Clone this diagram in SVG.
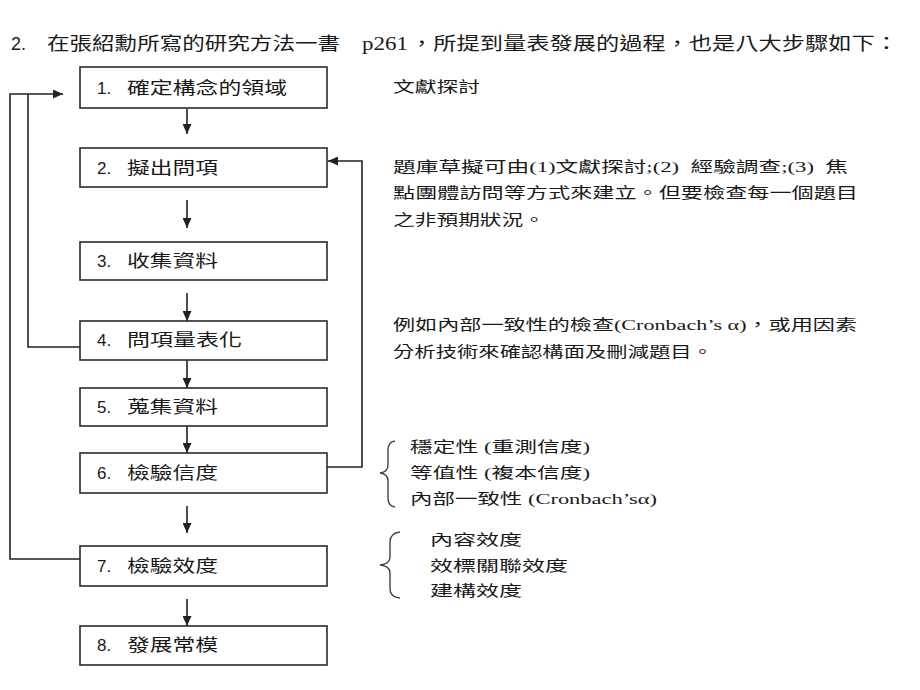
<svg xmlns="http://www.w3.org/2000/svg" width="920" height="690" viewBox="0 0 920 690">
<style>
.box{fill:#fff;stroke:#2a2a2a;stroke-width:1.6}
.cjk{font-family:"Noto Sans CJK TC","Noto Sans CJK SC",sans-serif;fill:#1a1a1a}
.mix{font-family:"Liberation Serif","Noto Sans CJK TC",serif;fill:#1a1a1a}
.num{font-family:"Liberation Sans","Noto Sans CJK TC",sans-serif;fill:#1a1a1a}
.lbl{font-size:17px}
.note{font-size:15px}
.ttl{font-size:18px}
.con{fill:none;stroke:#222;stroke-width:1.6}
.brace{fill:none;stroke:#444;stroke-width:1.4}
</style>
<defs>
<marker id="ah" markerUnits="userSpaceOnUse" markerWidth="11" markerHeight="9" refX="10" refY="4.5" orient="auto">
<path d="M0,0 L10,4.5 L0,9 Z" fill="#222"/>
</marker>
</defs>
<rect width="920" height="690" fill="#fff"/>

<g id="title">
<text class="num ttl" x="11" y="50">2.</text>
<text class="cjk ttl" x="47" y="50" textLength="293" lengthAdjust="spacingAndGlyphs">在張紹勳所寫的研究方法一書</text>
<text class="mix ttl" x="362" y="50" textLength="46" lengthAdjust="spacingAndGlyphs">p261</text>
<text class="cjk ttl" x="410" y="50" textLength="488" lengthAdjust="spacingAndGlyphs">，所提到量表發展的過程，也是八大步驟如下：</text>
</g>

<g id="connectors">
<line class="con" x1="187" y1="109" x2="187" y2="134" marker-end="url(#ah)"/>
<line class="con" x1="187" y1="200" x2="187" y2="228" marker-end="url(#ah)"/>
<line class="con" x1="187" y1="293" x2="187" y2="321" marker-end="url(#ah)"/>
<line class="con" x1="187" y1="360" x2="187" y2="388" marker-end="url(#ah)"/>
<line class="con" x1="187" y1="426" x2="187" y2="453" marker-end="url(#ah)"/>
<line class="con" x1="187" y1="506" x2="187" y2="533" marker-end="url(#ah)"/>
<line class="con" x1="187" y1="599" x2="187" y2="626" marker-end="url(#ah)"/>
<polyline class="con" points="80,347 28,347 28,94"/>
<polyline class="con" points="80,559 10,559 10,94 63,94" marker-end="url(#ah)"/>
<polyline class="con" points="327,467 362,467 362,161 328,161" marker-end="url(#ah)"/>
</g>

<g id="n1"><rect class="box" x="80" y="67" width="247" height="41"/>
<text class="num lbl" x="97" y="94">1.</text>
<text class="cjk lbl" x="127" y="94" textLength="160" lengthAdjust="spacingAndGlyphs">確定構念的領域</text></g>
<g id="n2"><rect class="box" x="80" y="148" width="247" height="39"/>
<text class="num lbl" x="97" y="174">2.</text>
<text class="cjk lbl" x="127" y="174" textLength="91" lengthAdjust="spacingAndGlyphs">擬出問項</text></g>
<g id="n3"><rect class="box" x="80" y="242" width="247" height="38"/>
<text class="num lbl" x="97" y="267">3.</text>
<text class="cjk lbl" x="127" y="267" textLength="91" lengthAdjust="spacingAndGlyphs">收集資料</text></g>
<g id="n4"><rect class="box" x="80" y="321" width="247" height="39"/>
<text class="num lbl" x="97" y="346">4.</text>
<text class="cjk lbl" x="127" y="346" textLength="115" lengthAdjust="spacingAndGlyphs">問項量表化</text></g>
<g id="n5"><rect class="box" x="80" y="388" width="247" height="38"/>
<text class="num lbl" x="97" y="413">5.</text>
<text class="cjk lbl" x="127" y="413" textLength="91" lengthAdjust="spacingAndGlyphs">蒐集資料</text></g>
<g id="n6"><rect class="box" x="80" y="453" width="247" height="40"/>
<text class="num lbl" x="97" y="479">6.</text>
<text class="cjk lbl" x="127" y="479" textLength="91" lengthAdjust="spacingAndGlyphs">檢驗信度</text></g>
<g id="n7"><rect class="box" x="80" y="546" width="247" height="40"/>
<text class="num lbl" x="97" y="572">7.</text>
<text class="cjk lbl" x="127" y="572" textLength="91" lengthAdjust="spacingAndGlyphs">檢驗效度</text></g>
<g id="n8"><rect class="box" x="80" y="626" width="247" height="39"/>
<text class="num lbl" x="97" y="651">8.</text>
<text class="cjk lbl" x="127" y="651" textLength="91" lengthAdjust="spacingAndGlyphs">發展常模</text></g>

<g id="note1"><text class="cjk note" x="393" y="92" textLength="87" lengthAdjust="spacingAndGlyphs">文獻探討</text></g>
<g id="note2">
<text class="mix note" x="393" y="172" textLength="455" lengthAdjust="spacingAndGlyphs">題庫草擬可由(1)文獻探討;(2)&#160;&#160;經驗調查;(3)&#160;&#160;焦</text>
<text class="cjk note" x="393" y="198" textLength="465" lengthAdjust="spacingAndGlyphs">點團體訪問等方式來建立。但要檢查每一個題目</text>
<text class="cjk note" x="393" y="225" textLength="152" lengthAdjust="spacingAndGlyphs">之非預期狀況。</text>
</g>
<g id="note3">
<text class="mix note" x="393" y="330" textLength="464" lengthAdjust="spacingAndGlyphs">例如內部一致性的檢查(Cronbach’s α)，或用因素</text>
<text class="cjk note" x="393" y="357" textLength="320" lengthAdjust="spacingAndGlyphs">分析技術來確認構面及刪減題目。</text>
</g>
<g id="note4">
<path class="brace" d="M395,441 Q388,442 388,450 L388,465 Q388,472 380,473 Q388,474 388,481 L388,498 Q388,506 395,507"/>
<text class="mix note" x="410" y="452" textLength="180" lengthAdjust="spacingAndGlyphs">穩定性 (重測信度)</text>
<text class="mix note" x="410" y="478" textLength="180" lengthAdjust="spacingAndGlyphs">等值性 (複本信度)</text>
<text class="mix note" x="410" y="504" textLength="247" lengthAdjust="spacingAndGlyphs">內部一致性 (Cronbach’sα)</text>
</g>
<g id="note5">
<path class="brace" d="M400,532 Q390,533 390,542 L390,557 Q390,564 380,565 Q390,566 390,573 L390,589 Q390,597 400,598"/>
<text class="cjk note" x="430" y="545" textLength="92" lengthAdjust="spacingAndGlyphs">內容效度</text>
<text class="cjk note" x="430" y="571" textLength="138" lengthAdjust="spacingAndGlyphs">效標關聯效度</text>
<text class="cjk note" x="430" y="596" textLength="92" lengthAdjust="spacingAndGlyphs">建構效度</text>
</g>
</svg>
